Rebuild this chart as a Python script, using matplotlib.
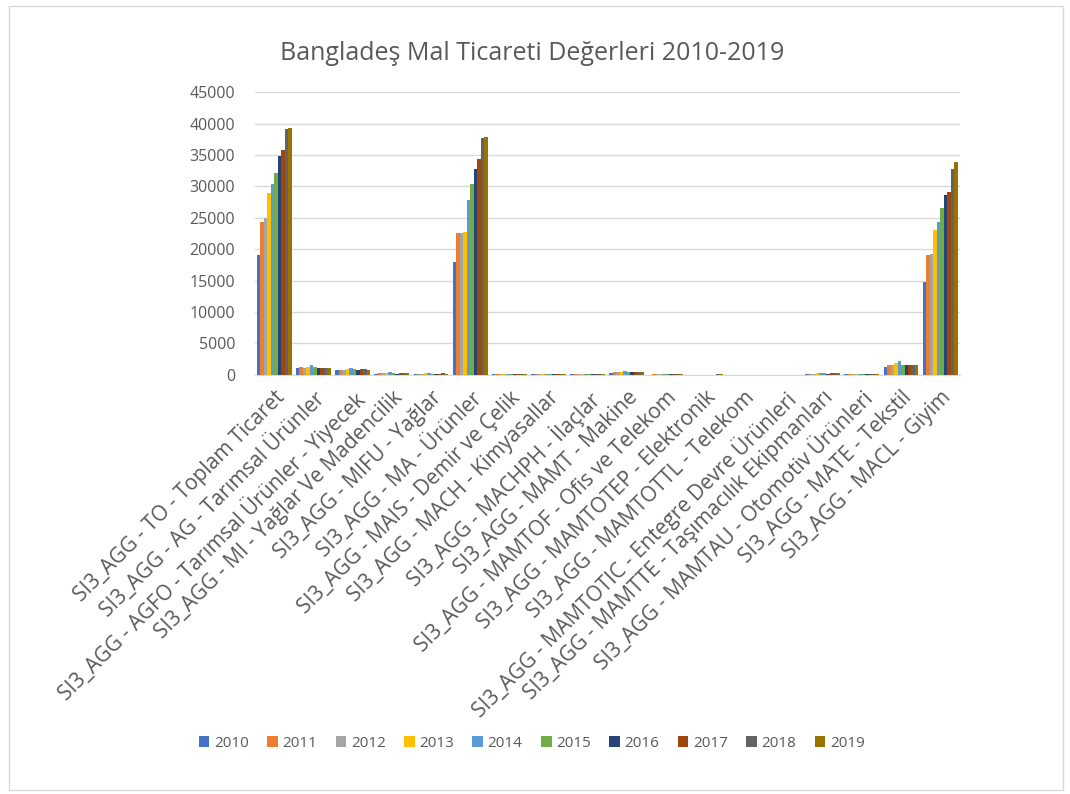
import matplotlib
matplotlib.use("Agg")
import matplotlib.pyplot as plt
import numpy as np

plt.rcParams['font.family'] = ['Open Sans', 'DejaVu Sans']

categories = [
    "SI3_AGG - TO - Toplam Ticaret",
    "SI3_AGG - AG - Tarımsal Ürünler",
    "SI3_AGG - AGFO - Tarımsal Ürünler - Yiyecek",
    "SI3_AGG - MI - Yağlar Ve Madencilik",
    "SI3_AGG - MIFU - Yağlar",
    "SI3_AGG - MA - Ürünler",
    "SI3_AGG - MAIS - Demir ve Çelik",
    "SI3_AGG - MACH - Kimyasallar",
    "SI3_AGG - MACHPH - İlaçlar",
    "SI3_AGG - MAMT - Makine",
    "SI3_AGG - MAMTOF - Ofis ve Telekom",
    "SI3_AGG - MAMTOTEP - Elektronik",
    "SI3_AGG - MAMTOTTL - Telekom",
    "SI3_AGG - MAMTOTIC - Entegre Devre Ürünleri",
    "SI3_AGG - MAMTTE - Taşımacılık Ekipmanları",
    "SI3_AGG - MAMTAU - Otomotiv Ürünleri",
    "SI3_AGG - MATE - Tekstil",
    "SI3_AGG - MACL - Giyim",
]

years = ["2010", "2011", "2012", "2013", "2014", "2015", "2016", "2017", "2018", "2019"]

# values per category, one entry per year (2010..2019)
to_total = [19100, 24300, 24900, 28900, 30300, 32200, 34800, 35800, 39200, 39300]
ag = [1000, 1200, 1100, 1300, 1600, 1200, 1000, 1100, 1100, 1100]
agfo = [700, 800, 800, 900, 1000, 900, 800, 850, 900, 800]
mi = [200, 300, 300, 350, 400, 250, 200, 250, 300, 300]
mifu = [100, 200, 200, 250, 300, 150, 100, 200, 250, 200]
ma = [17900, 22500, 22600, 22800, 27800, 30300, 32700, 34300, 37700, 37800]
mais = [50, 60, 70, 80, 90, 100, 90, 100, 120, 130]
mach = [120, 150, 150, 160, 170, 170, 150, 160, 180, 190]
machph = [50, 60, 70, 80, 90, 100, 110, 120, 130, 140]
mamt = [300, 400, 400, 450, 550, 450, 400, 450, 500, 450]
mamtof = [40, 50, 50, 50, 60, 60, 50, 60, 70, 70]
mamtotep = [20, 30, 30, 30, 40, 40, 30, 40, 50, 50]
mamtottl = [10, 10, 15, 15, 15, 20, 15, 20, 20, 20]
mamtotic = [2, 2, 3, 3, 3, 4, 3, 4, 4, 5]
mamtte = [150, 200, 200, 250, 300, 250, 200, 250, 300, 250]
mamtau = [80, 100, 100, 110, 120, 120, 100, 110, 130, 140]
mate = [1300, 1600, 1600, 1800, 2200, 1600, 1500, 1500, 1500, 1500]
macl = [14800, 19100, 19300, 23000, 24400, 26500, 28600, 29100, 32700, 33900]

values = np.array([to_total, ag, agfo, mi, mifu, ma, mais, mach, machph, mamt,
                   mamtof, mamtotep, mamtottl, mamtotic, mamtte, mamtau, mate, macl])

colors = ["#4472C4", "#ED7D31", "#A5A5A5", "#FFC000", "#5B9BD5",
          "#70AD47", "#264478", "#9E480E", "#636363", "#997300"]

txt = "#595959"

fig = plt.figure(figsize=(10.7, 7.94), dpi=100)
ax = fig.add_axes([0.238, 0.528, 0.659, 0.356])

x = np.arange(len(categories))
w = 0.089
for i, yr in enumerate(years):
    ax.bar(x - 4.5 * w + i * w, values[:, i], width=w, color=colors[i], label=yr, zorder=3)

ax.set_xlim(-0.5, len(categories) - 0.5)
ax.set_ylim(0, 45000)
ax.set_yticks(np.arange(0, 45001, 5000))
ax.yaxis.grid(True, color="#D9D9D9", linewidth=1, zorder=0)
for s in ["top", "right", "left"]:
    ax.spines[s].set_visible(False)
ax.spines["bottom"].set_color("#D9D9D9")
ax.tick_params(axis="both", length=0, colors=txt, labelsize=11.5)
ax.tick_params(axis="y", pad=14)
ax.tick_params(axis="x", pad=9)
ax.set_xticks(x)
ax.set_xticklabels(categories, rotation=45, ha="right", rotation_mode="anchor", fontsize=15, color=txt)

fig.text(0.497, 0.933, "Bangladeş Mal Ticareti Değerleri 2010-2019", ha="center", va="center",
         fontsize=18, color=txt)

handles, labels = ax.get_legend_handles_labels()
fig.legend(handles, labels, loc="center", bbox_to_anchor=(0.497, 0.064), ncol=10, frameon=False,
           fontsize=11, labelcolor=txt, handlelength=0.7, handleheight=0.7, handletextpad=0.3,
           columnspacing=1.2)

border = plt.Rectangle((0.008, 0.005), 0.985, 0.988, transform=fig.transFigure, fill=False,
                       edgecolor="#D9D9D9", linewidth=1)
fig.patches.append(border)

fig.savefig("out.png", dpi=100)
